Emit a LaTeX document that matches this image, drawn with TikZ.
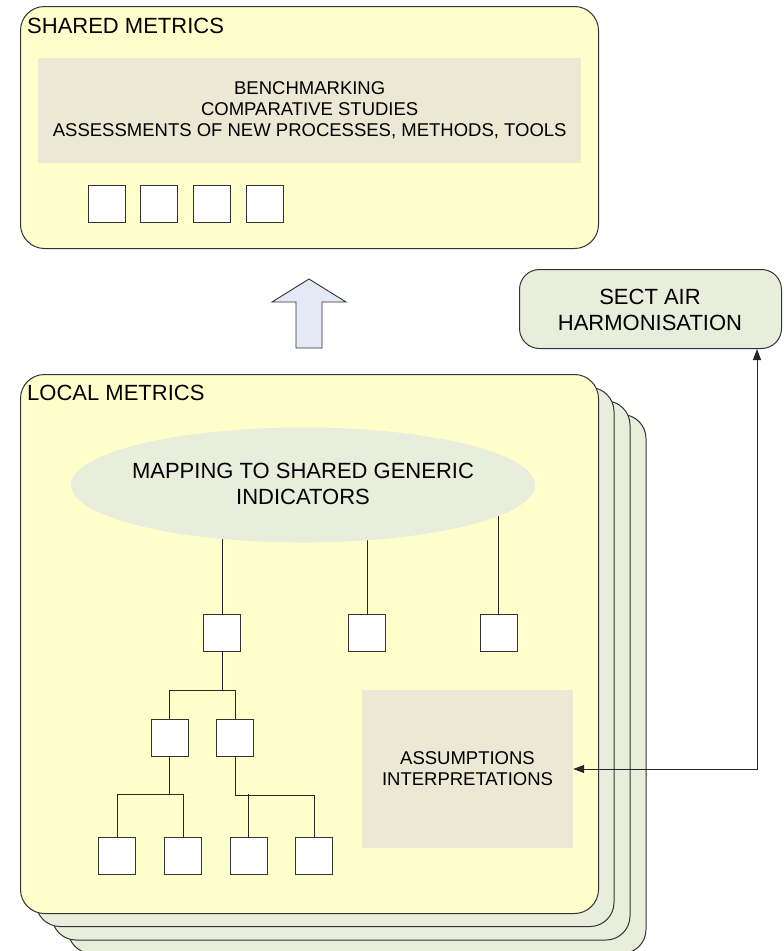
\documentclass[tikz,border=0pt]{standalone}
\usepackage{fontspec}
\setmainfont{Liberation Sans}
\usetikzlibrary{shapes.geometric,arrows.meta,calc}
\definecolor{paleyellow}{HTML}{FFFFCC}
\definecolor{panelgray}{HTML}{EBE8D4}
\definecolor{sagefill}{HTML}{E9EDDC}
\definecolor{arrowblue}{HTML}{E3EAF5}
\definecolor{edgegray}{HTML}{333333}

\begin{document}
\begin{tikzpicture}[x=1pt,y=-1pt,
  panel/.style={draw=edgegray,line width=1pt,rounded corners=24pt,rectangle,inner sep=0pt,anchor=north west},
  item/.style={draw=edgegray,fill=white,line width=0.9pt,rectangle,minimum width=37pt,minimum height=37pt,inner sep=0pt},
  link/.style={draw=black!85,line width=0.9pt},
  bigtext/.style={font=\fontsize{22}{26.5}\selectfont,align=center,inner sep=0pt},
  midtext/.style={font=\fontsize{18.5}{21}\selectfont,align=center,inner sep=0pt},
  tipend/.style={Triangle[length=11pt,width=8pt]}
]
\useasboundingbox (0,0) rectangle (784,951);

% ---------- shared metrics panel ----------
\node[panel,fill=paleyellow,minimum width=578pt,minimum height=242pt] (shared) at (20,6) {};
\node[bigtext,anchor=base west] (sharedtitle) at (27,33) {SHARED METRICS};
\node[midtext,fill=panelgray,minimum width=543pt,minimum height=105pt,anchor=north west] (tasks) at (38,58)
  {BENCHMARKING\\COMPARATIVE STUDIES\\ASSESSMENTS OF NEW PROCESSES, METHODS, TOOLS};
\node[item] (g1) at (106.5,203.5) {};
\node[item] (g2) at (158.5,203.5) {};
\node[item] (g3) at (211.5,203.5) {};
\node[item] (g4) at (264.5,203.5) {};

% ---------- upward block arrow ----------
\draw[fill=arrowblue,draw=edgegray,line width=0.9pt]
  (309,279) -- (346,302) -- (322,302) -- (322,348) -- (296,348) -- (296,302) -- (272,302) -- cycle;

% ---------- harmonisation box ----------
\node[panel,rounded corners=20pt,fill=sagefill,minimum width=262pt,minimum height=79pt,
      bigtext,draw=edgegray,line width=1pt] (sect) at (519,269) {};
\node[bigtext] (secttext) at (650,310) {SECT AIR\\HARMONISATION};

% ---------- stacked local metrics sheets ----------
\foreach \k in {3,2,1} {
  \draw[draw=edgegray,line width=1pt,rounded corners=24pt,fill=sagefill]
    (20+16*\k, 374+13.5*\k) rectangle (598+16*\k, 913+13.5*\k);
}
\node[panel,fill=paleyellow,minimum width=578pt,minimum height=539pt] (local) at (20,374) {};
\node[bigtext,anchor=base west] (localtitle) at (27,400) {LOCAL METRICS};

% indicator tree
\node[item] (s1) at (222,632.5) {};
\node[item] (s2) at (367,632.5) {};
\node[item] (s3) at (498.5,632.5) {};
\node[item] (c1) at (169.5,737.5) {};
\node[item] (c2) at (235,737.5) {};
\node[item] (d1) at (117,856) {};
\node[item] (d2) at (183,856) {};
\node[item] (d3) at (248.5,856) {};
\node[item] (d4) at (314,856) {};

\coordinate (mapc) at (303,485);
\draw[link] (s1.north) -- (s1.north |- mapc);
\draw[link] (s2.north) -- (s2.north |- mapc);
\draw[link] (s3.north) -- (s3.north |- mapc);

\draw[link] (s1.south) -- ++(0,40);
\draw[link] (c1.north) -- ++(0,-28) -| (c2.north);
\draw[link] (c1.south) -- ++(0,39);
\draw[link] (d1.north) -- ++(0,-43) -| (d2.north);
\draw[link] (c2.south) -- ++(0,39) -| (d4.north);
\draw[link] (d3.north) -- ++(0,-43);

\node[ellipse,fill=sagefill,minimum width=464pt,minimum height=115pt,inner sep=0pt] (map) at (mapc) {};
\node[bigtext] (maptext) at (303,484) {MAPPING TO SHARED GENERIC\\INDICATORS};

\node[midtext,fill=panelgray,minimum width=211pt,minimum height=158pt] (asm) at (467.5,769)
  {ASSUMPTIONS\\INTERPRETATIONS};

% two-way link between assumptions and harmonisation
\coordinate (turn) at (757,769);
\draw[link,{Triangle[length=11pt,width=8pt]}-{Triangle[length=11pt,width=8pt]}]
  (asm.east) -- (turn) -- (turn |- sect.south);
\end{tikzpicture}
\end{document}
